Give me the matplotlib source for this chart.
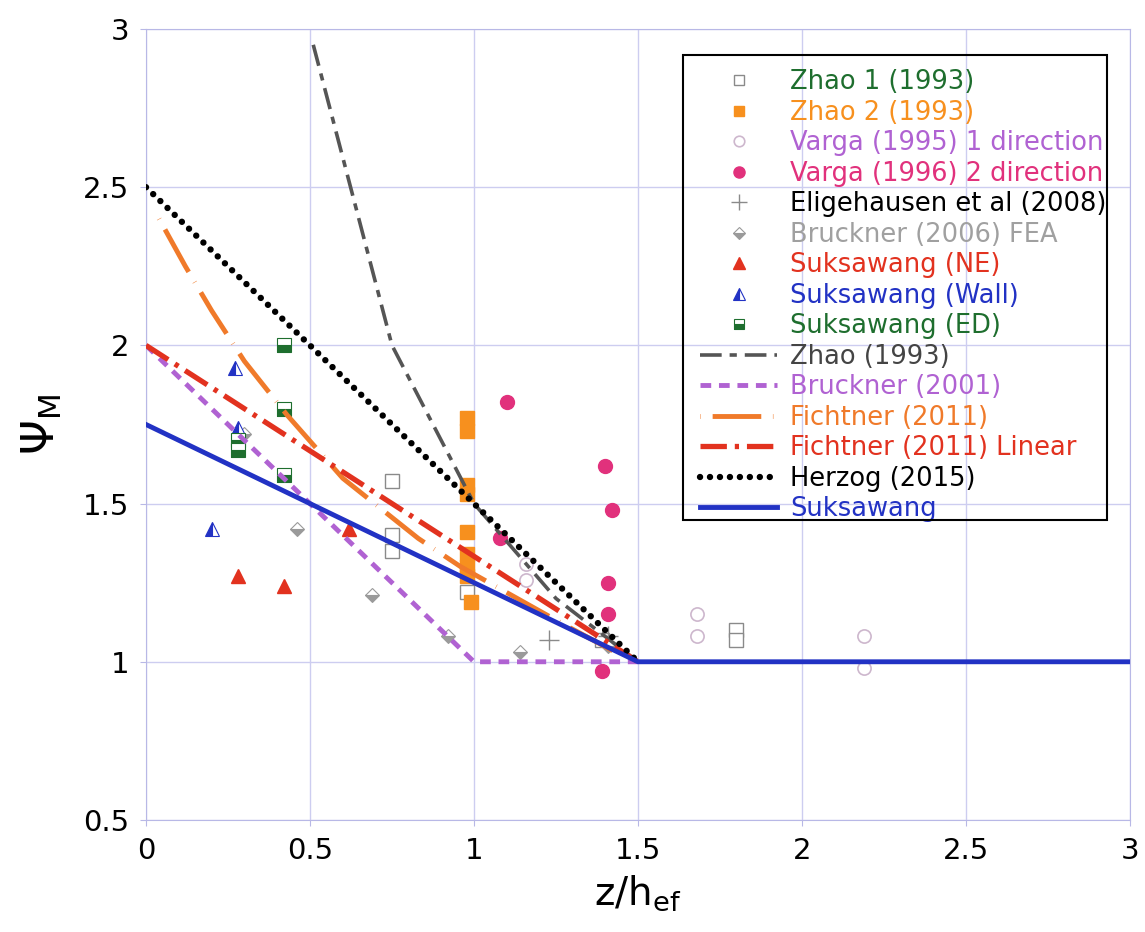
import matplotlib
matplotlib.use("Agg")
import matplotlib.pyplot as plt
from matplotlib.patches import Rectangle

# ---- data ----
zhao1_x = [0.75, 0.75, 0.75, 0.98, 1.39, 1.80, 1.80]
zhao1_y = [1.57, 1.40, 1.35, 1.22, 1.07, 1.10, 1.07]

zhao2_x = [0.98, 0.98, 0.98, 0.98, 0.98, 0.98, 0.98, 0.98, 0.99]
zhao2_y = [1.77, 1.73, 1.56, 1.53, 1.41, 1.34, 1.30, 1.27, 1.19]

varga1_x = [1.16, 1.16, 1.68, 1.68, 2.19, 2.19]
varga1_y = [1.31, 1.26, 1.15, 1.08, 1.08, 0.98]

varga2_x = [1.10, 1.08, 1.40, 1.42, 1.41, 1.41, 1.39]
varga2_y = [1.82, 1.39, 1.62, 1.48, 1.25, 1.15, 0.97]

elig_x = [1.23, 1.41]
elig_y = [1.07, 1.08]

bfea_x = [0.46, 0.69, 0.92, 1.14, 0.30, 1.41]
bfea_y = [1.42, 1.21, 1.08, 1.03, 1.72, 1.05]

ne_x = [0.28, 0.42, 0.62]
ne_y = [1.27, 1.24, 1.42]

wall_x = [0.20, 0.27, 0.28]
wall_y = [1.42, 1.93, 1.74]

ed_x = [0.42, 0.42, 0.42, 0.28, 0.28]
ed_y = [2.00, 1.80, 1.59, 1.70, 1.67]

zhao_line_x = [0.51, 0.75, 1.00, 1.25, 1.50]
zhao_line_y = [2.95, 2.00, 1.50, 1.20, 1.00]

bruckner_x = [0.0, 1.0, 1.5]
bruckner_y = [2.0, 1.0, 1.0]

fichtner_x = [0.04, 0.12, 0.20, 0.30, 0.43, 0.60, 0.83, 0.96, 1.27, 1.45]
fichtner_y = [2.40, 2.25, 2.11, 1.95, 1.78, 1.58, 1.39, 1.30, 1.12, 1.02]

fichtner_lin_x = [0.0, 1.5]
fichtner_lin_y = [2.0, 1.0]

herzog_x = [0.0, 1.5]
herzog_y = [2.5, 1.0]

suks_x = [0.0, 1.5, 3.0]
suks_y = [1.75, 1.0, 1.0]

# colours
c_green = "#1e6e2e"
c_orange = "#f7901e"
c_purple = "#b062d2"
c_pink = "#e1317c"
c_red = "#e2321f"
c_blue = "#2232c4"

fig = plt.figure(figsize=(11.45, 9.32), dpi=100)
ax = fig.add_axes([0.1275, 0.1202, 0.8594, 0.8487])

ms = 9.5
ax.plot(zhao1_x, zhao1_y, ls="none", marker="s", ms=ms, mfc="white", mec="#8a8a8a", mew=1.0,
        label="Zhao 1 (1993)", zorder=3)
ax.plot(zhao2_x, zhao2_y, ls="none", marker="s", ms=ms, mfc=c_orange, mec=c_orange,
        label="Zhao 2 (1993)", zorder=3)
ax.plot(varga1_x, varga1_y, ls="none", marker="o", ms=ms, mfc="white", mec="#cdb7cd", mew=1.2,
        label="Varga (1995) 1 direction", zorder=3)
ax.plot(varga2_x, varga2_y, ls="none", marker="o", ms=ms + 0.5, mfc=c_pink, mec=c_pink,
        label="Varga (1996) 2 direction", zorder=3)
ax.plot(elig_x, elig_y, ls="none", marker="+", ms=14, mec="#8a8a8a", mew=1.0,
        label="Eligehausen et al (2008)", zorder=3)
ax.plot(bfea_x, bfea_y, ls="none", marker="D", ms=7.5, mfc="#9a9a9a", mfcalt="white",
        fillstyle="bottom", mec="#9a9a9a", mew=0.8, label="Bruckner (2006) FEA", zorder=3)
ax.plot(ne_x, ne_y, ls="none", marker="^", ms=ms + 1, mfc=c_red, mec=c_red,
        label="Suksawang (NE)", zorder=3)
ax.plot(wall_x, wall_y, ls="none", marker="^", ms=ms + 1, mfc=c_blue, mfcalt="white",
        fillstyle="left", mec=c_blue, mew=0.8, label="Suksawang (Wall)", zorder=3)
ax.plot(ed_x, ed_y, ls="none", marker="s", ms=ms, mfc=c_green, mfcalt="white",
        fillstyle="bottom", mec=c_green, mew=0.8, label="Suksawang (ED)", zorder=3)

# model curves
ax.plot(zhao_line_x, zhao_line_y, color="#555555", lw=2.6, dashes=(6, 2.2, 2, 2.2),
        label="Zhao (1993)", zorder=4)
ax.plot(bruckner_x, bruckner_y, color=c_purple, lw=3.5, dashes=(2.2, 1.6),
        label="Bruckner (2001)", zorder=4)
ax.plot(fichtner_x, fichtner_y, color="#f07a2a", lw=3.5, dashes=(0.1, 2.4, 10, 2.4),
        label="Fichtner (2011)", zorder=4)
ax.plot(fichtner_lin_x, fichtner_lin_y, color=c_red, lw=3.8, dashes=(5, 1.5, 0.8, 1.5),
        label="Fichtner (2011) Linear", zorder=4)
ax.plot(herzog_x, herzog_y, color="black", lw=4.6, dashes=(0.01, 1.55), dash_capstyle="round",
        label="Herzog (2015)", zorder=4)
ax.plot(suks_x, suks_y, color=c_blue, lw=3.5, label="Suksawang", zorder=5)

ax.set_xlim(0, 3)
ax.set_ylim(0.5, 3)
ax.set_xticks([0, 0.5, 1, 1.5, 2, 2.5, 3])
ax.set_yticks([0.5, 1, 1.5, 2, 2.5, 3])
ax.set_xticklabels(["0", "0.5", "1", "1.5", "2", "2.5", "3"])
ax.set_yticklabels(["0.5", "1", "1.5", "2", "2.5", "3"])
ax.grid(True, color="#cdcdf0", lw=1.0)
ax.set_axisbelow(True)
for s in ax.spines.values():
    s.set_color("#b8b8e6")
ax.tick_params(axis="both", length=4, color="#b8b8e6", labelsize=21, pad=8)

ax.set_xlabel(r"z/h$_{\mathregular{ef}}$", fontsize=28, labelpad=6)
ax.set_ylabel(r"$\Psi_{\mathrm{M}}$", fontsize=32, labelpad=14)

text_colors = [c_green, c_orange, c_purple, c_pink, "black", "#a0a0a0", c_red, c_blue, c_green,
               "#444444", c_purple, "#f07a2a", c_red, "black", c_blue]
leg = ax.legend(loc="upper left", bbox_to_anchor=(0.563, 0.949), frameon=False,
                fontsize=18.5, handlelength=3.0, handletextpad=0.5, labelspacing=0.175,
                markerscale=0.8, borderaxespad=0, borderpad=0)
for t, c in zip(leg.get_texts(), text_colors):
    t.set_color(c)

# legend frame (text overflows it in the original)
ax.add_patch(Rectangle((0.546, 0.379), 0.431, 0.588, transform=ax.transAxes,
                       fill=False, ec="black", lw=1.5, zorder=6, clip_on=False))

fig.savefig("out.png", dpi=100)
